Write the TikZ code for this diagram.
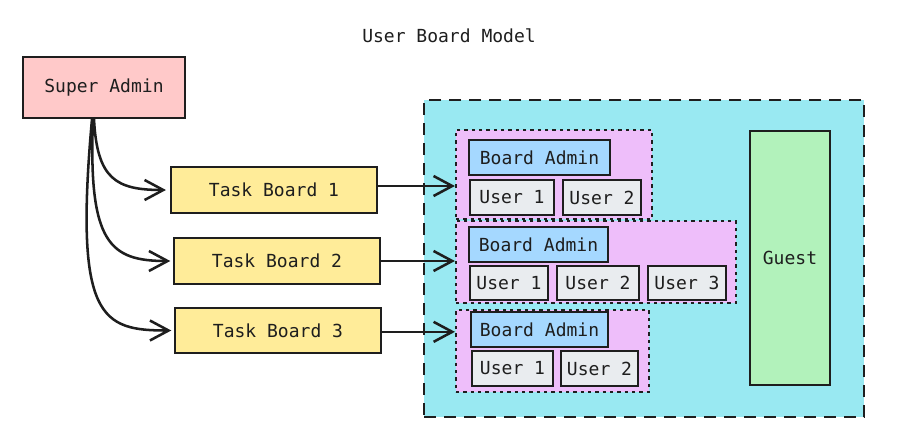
\documentclass[tikz,border=0pt]{standalone}
\usepackage{fontspec}
\setmainfont{DejaVu Sans Mono}
\usetikzlibrary{arrows.meta}
\definecolor{ink}{HTML}{1E1E1E}
\definecolor{cpink}{HTML}{FFC9C9}
\definecolor{cyellow}{HTML}{FFEC99}
\definecolor{ccyan}{HTML}{99E9F2}
\definecolor{cviolet}{HTML}{EEBEFA}
\definecolor{cblue}{HTML}{A5D8FF}
\definecolor{cgray}{HTML}{E9ECEF}
\definecolor{cgreen}{HTML}{B2F2BB}
\begin{document}
\begin{tikzpicture}[x=0.75pt,y=-0.75pt,
  every node/.style={font=\fontsize{13.5}{16}\selectfont, text=ink},
  box/.style={draw=ink, line width=1.6pt, rectangle, inner sep=0pt},
  outerbox/.style={draw=ink, line width=1.6pt, fill=ccyan, dash pattern=on 9pt off 6pt, rectangle, inner sep=0pt},
  grpbox/.style={draw=ink, line width=1.6pt, fill=cviolet, dash pattern=on 2.5pt off 3pt, rectangle, inner sep=0pt},
  arr/.style={draw=ink, line width=1.9pt, -{Straight Barb[length=14pt,width=15pt,line width=1.9pt]}}
]
\useasboundingbox[fill=white] (0,0) rectangle (908,447);

\node (title) at (449,36) {User Board Model};

\node[box, fill=cpink, minimum width=121.5pt, minimum height=45.75pt] (sa) at (104,87.5) {Super Admin};

\node[box, fill=cyellow, minimum width=154.5pt, minimum height=34.5pt] (tb1) at (274,190) {Task Board 1};
\node[box, fill=cyellow, minimum width=154.5pt, minimum height=34.5pt] (tb2) at (277,261) {Task Board 2};
\node[box, fill=cyellow, minimum width=154.5pt, minimum height=33.75pt] (tb3) at (278,330.5) {Task Board 3};

\node[outerbox, minimum width=330pt, minimum height=237.75pt] (outer) at (644,258.5) {};

\node[grpbox, minimum width=147pt, minimum height=66.75pt] (g1) at (554,174.5) {};
\node[grpbox, minimum width=210pt, minimum height=61.5pt] (g2) at (596,262) {};
\node[grpbox, minimum width=144.75pt, minimum height=61.5pt] (g3) at (552.5,351) {};

\node[box, fill=cblue, minimum width=105.75pt, minimum height=26.25pt] (ba1) at (539.5,157.5) {Board Admin};
\node[box, fill=cgray, minimum width=63pt, minimum height=26.25pt] (u11) at (512,197.5) {User 1};
\node[box, fill=cgray, minimum width=58.5pt, minimum height=26.25pt] (u12) at (602,197.5) {User 2};

\node[box, fill=cblue, minimum width=104.25pt, minimum height=26.25pt] (ba2) at (538.5,244.5) {Board Admin};
\node[box, fill=cgray, minimum width=58.5pt, minimum height=25.5pt] (u21) at (509,283) {User 1};
\node[box, fill=cgray, minimum width=61.5pt, minimum height=25.5pt] (u22) at (598,283) {User 2};
\node[box, fill=cgray, minimum width=58.5pt, minimum height=25.5pt] (u23) at (687,283) {User 3};

\node[box, fill=cblue, minimum width=102.75pt, minimum height=26.25pt] (ba3) at (539.5,329.5) {Board Admin};
\node[box, fill=cgray, minimum width=60.75pt, minimum height=26.25pt] (u31) at (512.5,368.5) {User 1};
\node[box, fill=cgray, minimum width=57.75pt, minimum height=26.25pt] (u32) at (599.5,368.5) {User 2};

\node[box, fill=cgreen, minimum width=60pt, minimum height=190.5pt] (guest) at (790,258) {Guest};

\coordinate (s1) at ([xshift=-7.5pt]sa.south);
\coordinate (s2) at ([xshift=-8.25pt]sa.south);
\coordinate (s3) at ([xshift=-9pt]sa.south);

\draw[arr] (s1) .. controls +(3,60) and +(-50,0) .. ([xshift=-3pt]tb1.west);
\draw[arr] (s2) .. controls +(-5,125) and +(-60,0) .. ([xshift=-2pt]tb2.west);
\draw[arr] (s3) .. controls +(-18,200) and +(-70,0) .. ([xshift=-2pt]tb3.west);

\draw[arr] ([yshift=3pt]tb1.east) -- ([yshift=3pt]tb1.east -| g1.west);
\draw[arr] (tb2.east) -- (tb2.east -| g2.west);
\draw[arr] ([yshift=-1pt]tb3.east) -- ([yshift=-1pt]tb3.east -| g3.west);
\end{tikzpicture}
\end{document}
